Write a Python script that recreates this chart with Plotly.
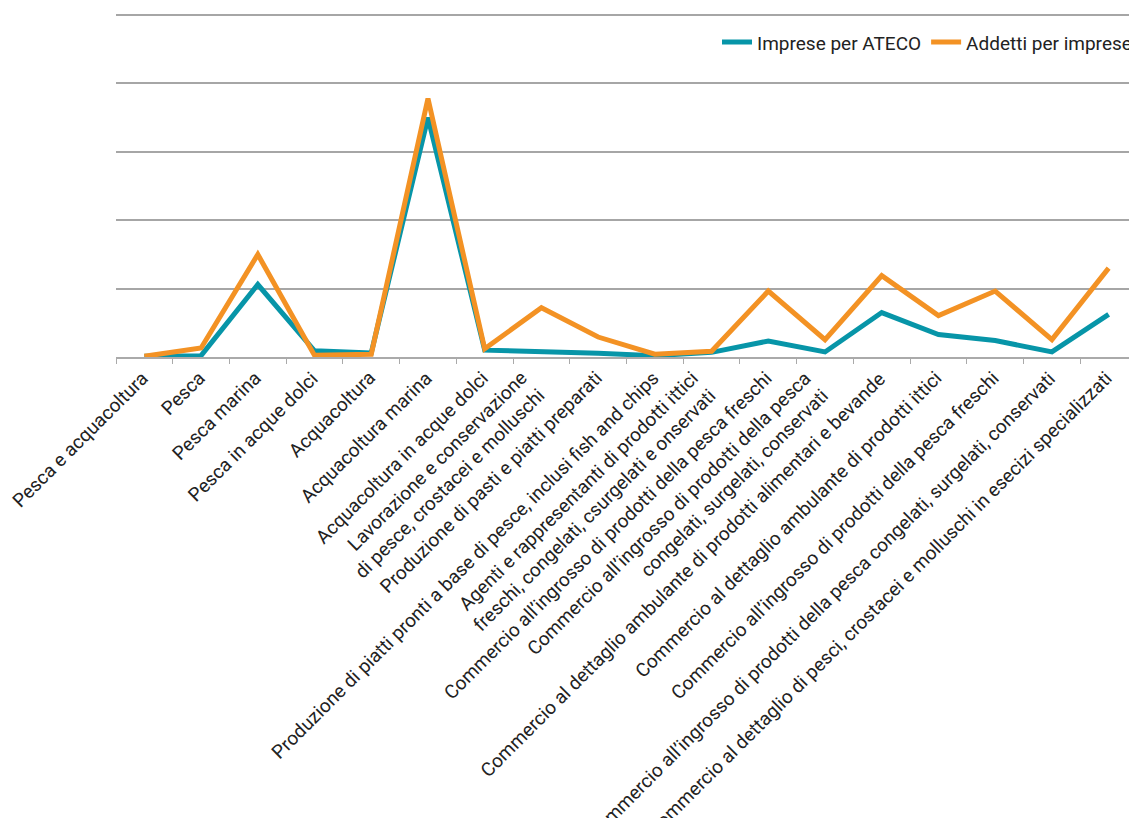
import plotly.graph_objects as go

# categorie ATECO (asse x)
categorie = [
    "Pesca e acquacoltura",
    "Pesca",
    "Pesca marina",
    "Pesca in acque dolci",
    "Acquacoltura",
    "Acquacoltura marina",
    "Acquacoltura in acque dolci",
    "Lavorazione e conservazione<br>di pesce, crostacei e molluschi",
    "Produzione di pasti e piatti preparati",
    "Produzione di piatti pronti a base di pesce, inclusi fish and chips",
    "Agenti e rappresentanti di prodotti ittici<br>freschi, congelati, csurgelati e onservati",
    "Commercio all’ingrosso di prodotti della pesca freschi",
    "Commercio all’ingrosso di prodotti della pesca<br>congelati, surgelati, conservati",
    "Commercio al dettaglio ambulante di prodotti alimentari e bevande",
    "Commercio al dettaglio ambulante di prodotti ittici",
    "Commercio all’ingrosso di prodotti della pesca freschi ",
    "Commercio all’ingrosso di prodotti della pesca congelati, surgelati, conservati",
    "Commercio al dettaglio di pesci, crostacei e molluschi in esecizi specializzati",
]

imprese = [0.05, 0.1, 5.3, 0.45, 0.3, 17.5, 0.5, 0.42, 0.27, 0.1, 0.34,
           1.17, 0.37, 3.25, 1.64, 1.2, 0.37, 3.12]
addetti = [0.05, 0.66, 7.5, 0.12, 0.2, 18.9, 0.6, 3.6, 1.46, 0.2, 0.42,
           4.82, 1.27, 5.95, 3.03, 4.82, 1.27, 6.5]

fig = go.Figure()
fig.add_trace(go.Scatter(x=categorie, y=imprese, mode="lines", name="Imprese per ATECO",
                         line=dict(color="#0795a8", width=5)))
fig.add_trace(go.Scatter(x=categorie, y=addetti, mode="lines", name="Addetti per imprese",
                         line=dict(color="#f39224", width=5)))

# etichette ruotate come annotazioni (blocchi multi-riga centrati sul tick)
for c in categorie:
    fig.add_annotation(x=c, xref="x", y=0, yref="paper", text=c.strip(),
                       showarrow=False, textangle=-45, align="right",
                       xanchor="right", yanchor="top", xshift=11, yshift=-7,
                       font=dict(family="Roboto", size=19, color="#222222"))

# la pagina ha 8px di margine nel body: figura ridotta di conseguenza
fig.update_layout(
    width=1129, height=810,
    margin=dict(l=108, r=0, t=5, b=461, autoexpand=False),
    plot_bgcolor="white", paper_bgcolor="white",
    font=dict(family="Roboto", size=19, color="#222222"),
    showlegend=True,
    legend=dict(orientation="h", x=1, xanchor="right", y=0.915, yanchor="middle",
                font=dict(size=19, color="#222222"), itemwidth=30,
                bgcolor="rgba(0,0,0,0)"),
)
fig.update_xaxes(
    type="category", tickson="boundaries", showticklabels=False,
    showline=True, linecolor="#aaaaaa", linewidth=1.5,
    ticks="outside", ticklen=5, tickcolor="#aaaaaa",
    showgrid=False, automargin=False,
    range=[-0.5, len(categorie) - 0.5],
)
# range un po' sopra 25 perché plotly non disegna la griglia sul bordo
fig.update_yaxes(
    range=[0, 25.15], tickvals=[5, 10, 15, 20, 25], showticklabels=False,
    showgrid=True, gridcolor="#a6a6a6", gridwidth=1.5,
    zeroline=False, showline=False,
)

fig.write_html("out.html")
